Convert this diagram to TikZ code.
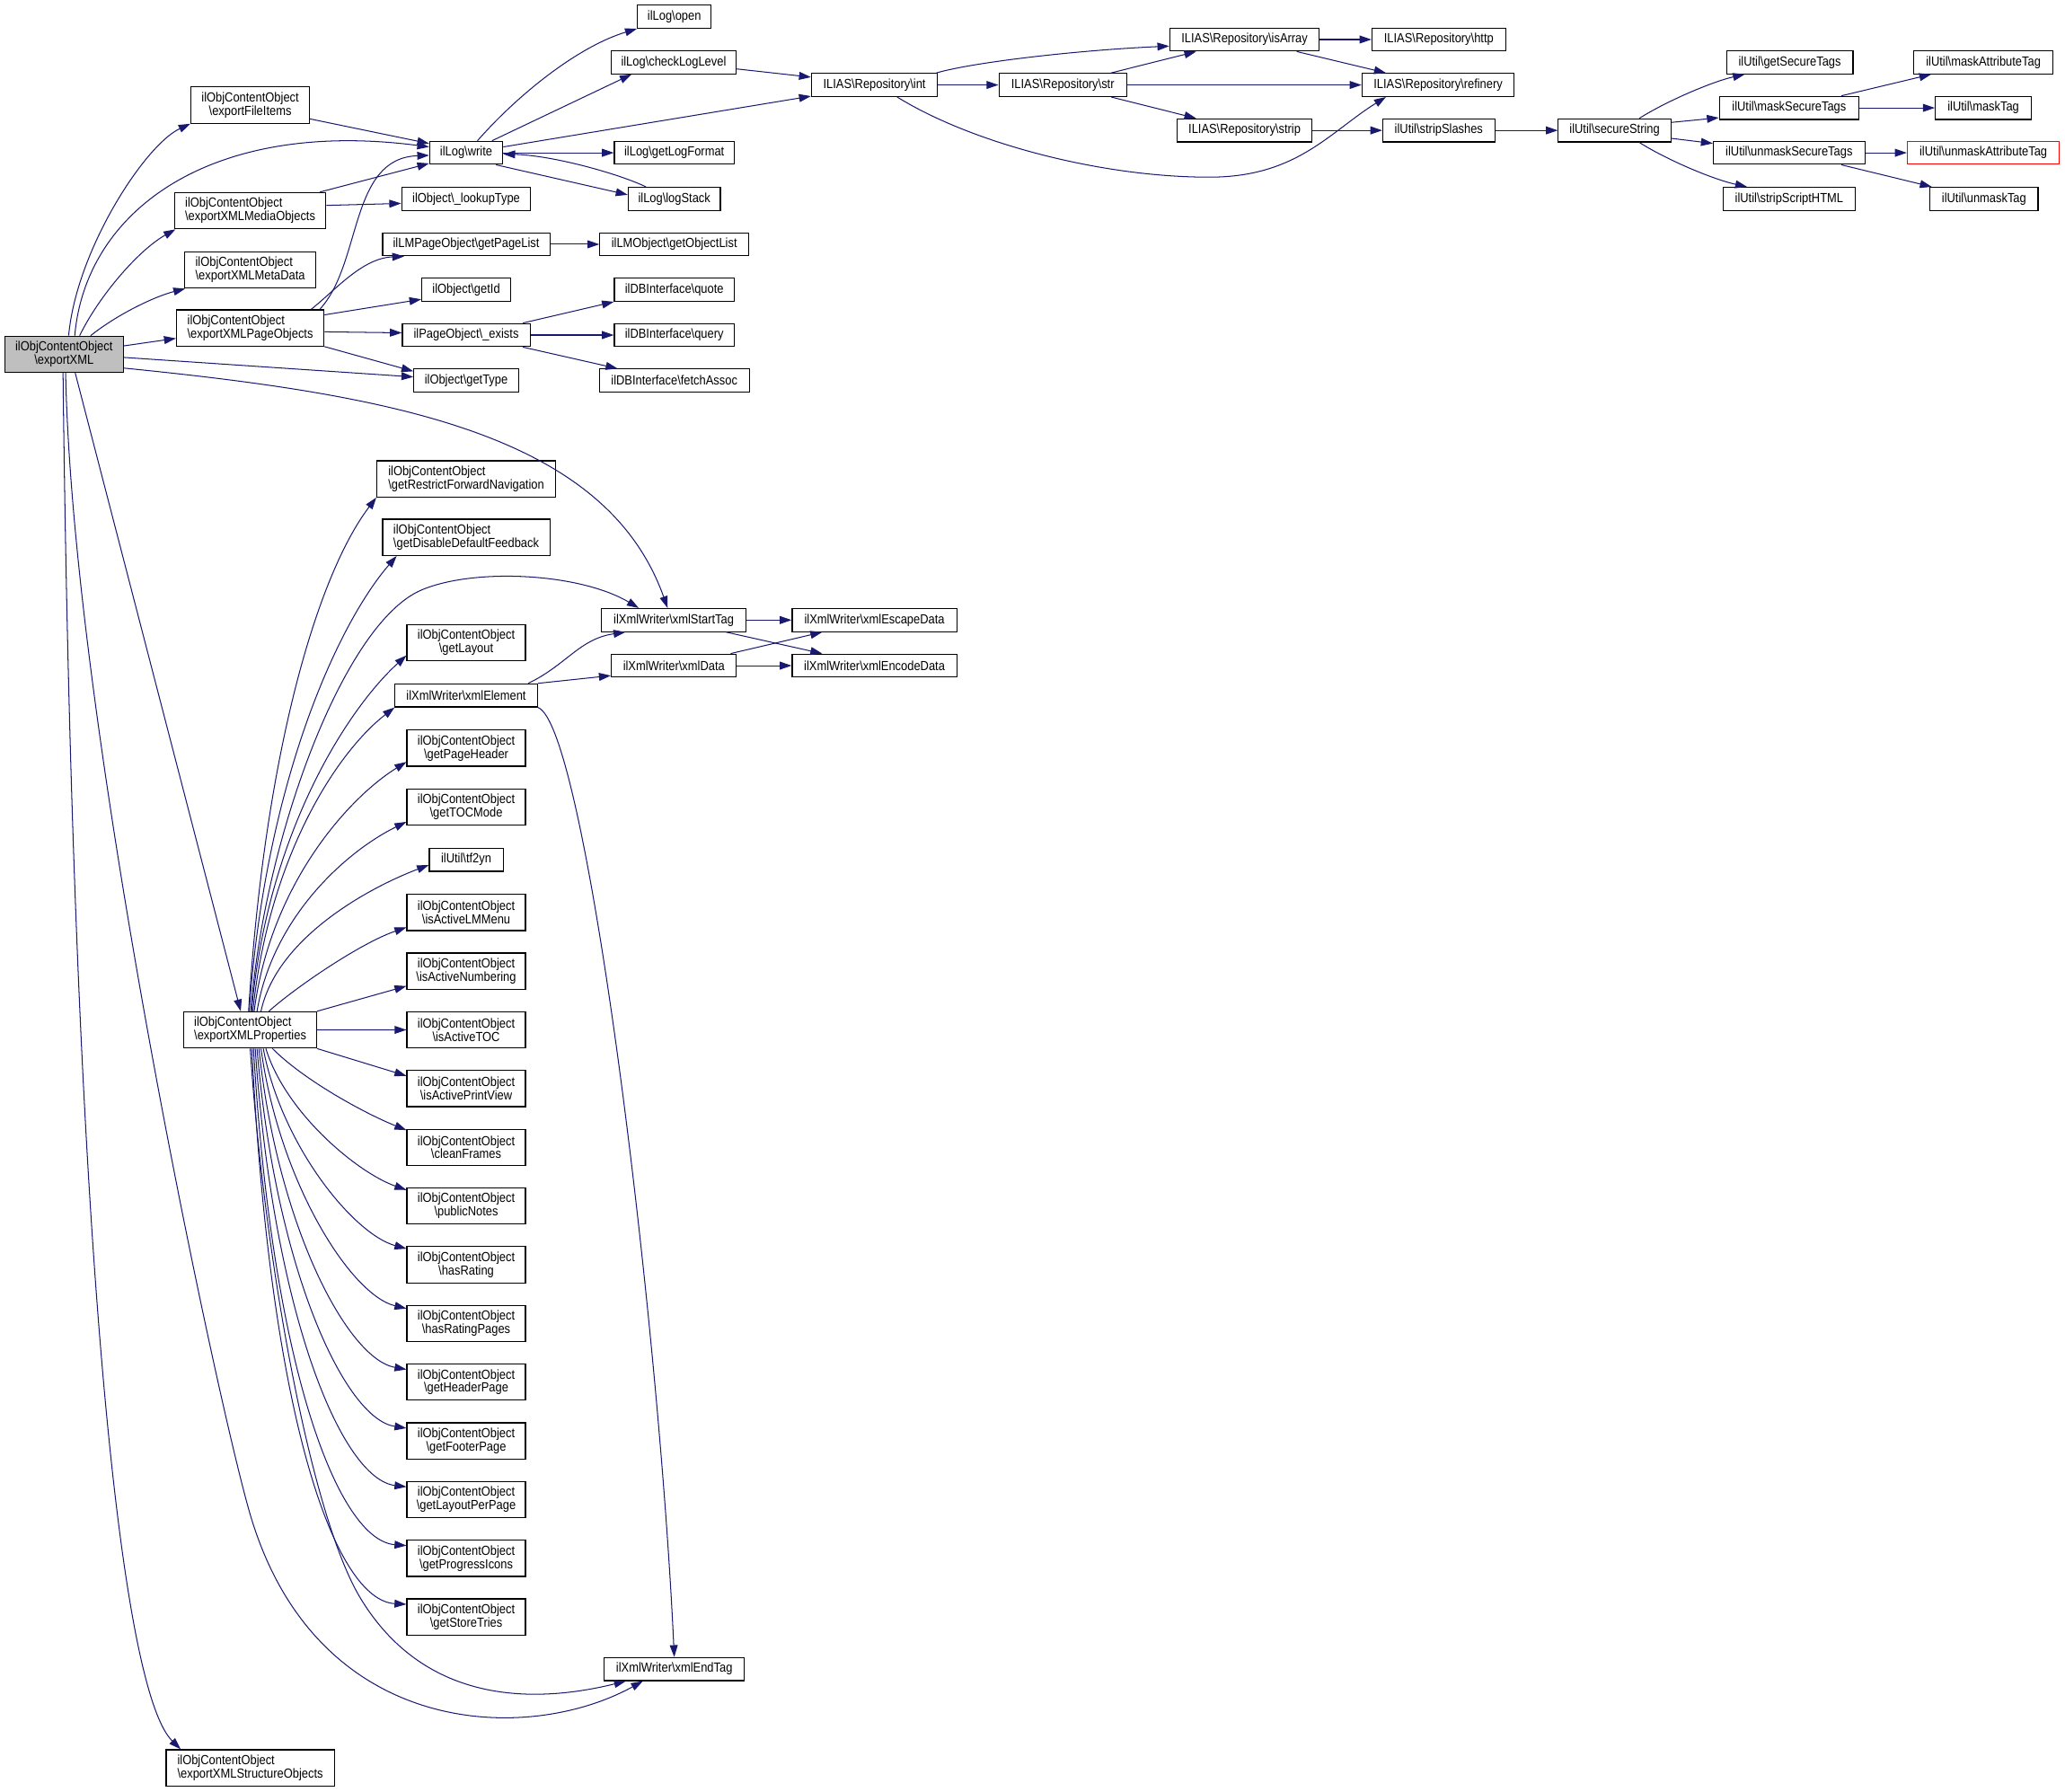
\documentclass[tikz,border=0pt]{standalone}
\usepackage{fontspec}
\setmainfont{Liberation Sans}[FakeStretch=0.88]
\usetikzlibrary{arrows.meta}
\definecolor{callcol}{HTML}{191970}
\definecolor{rootfill}{HTML}{BFBFBF}
\newcommand{\bsl}{\textbackslash}

\begin{document}
\begin{tikzpicture}[x=1pt,y=-1pt,font=\fontsize{10}{10.2}\selectfont]
\tikzset{fn/.style={draw,fill=white,line width=.8pt,inner sep=0pt,minimum height=17.5pt},
 fnn/.style={fn,minimum height=27.5pt,align=center},
 fnl/.style={fnn,align=left},
 call/.style={draw=callcol,line width=.7pt,-{Triangle[length=9pt,width=6pt]}}}
\useasboundingbox (0,0) rectangle (1568,1360);
\node[fnn,fill=rootfill,minimum width=90pt] (exportxml) at (48.6,269) {ilObjContentObject\\\bsl exportXML};
\node[fnn,minimum width=90pt] (fileitems) at (190,79.8) {ilObjContentObject\\\bsl exportFileItems};
\node[fnl,minimum width=115pt] (mediaobj) at (190,160) {ilObjContentObject\\\bsl exportXMLMediaObjects};
\node[fnl,minimum width=100pt] (metadata) at (190,205) {ilObjContentObject\\\bsl exportXMLMetaData};
\node[fnl,minimum width=112pt] (pageobj) at (190,249) {ilObjContentObject\\\bsl exportXMLPageObjects};
\node[fnl,minimum width=100.6pt] (props) at (190,782) {ilObjContentObject\\\bsl exportXMLProperties};
\node[fnl,minimum width=127.7pt] (structobj) at (190,1342.3) {ilObjContentObject\\\bsl exportXMLStructureObjects};
\node[fn,minimum width=55.5pt] (logwrite) at (354,116) {ilLog\bsl write};
\node[fn,minimum width=98pt] (lookup) at (354,151) {ilObject\bsl\_lookupType};
\node[fn,minimum width=127pt] (pagelist) at (354,185.5) {ilLMPageObject\bsl getPageList};
\node[fn,minimum width=67.5pt] (getid) at (354,220) {ilObject\bsl getId};
\node[fn,minimum width=97pt] (exists) at (354,254.4) {ilPageObject\bsl\_exists};
\node[fn,minimum width=79.5pt] (gettype) at (354,289) {ilObject\bsl getType};
\node[fnl,minimum width=135.7pt] (restrictnav) at (354,363.6) {ilObjContentObject\\\bsl getRestrictForwardNavigation};
\node[fnl,minimum width=127pt] (disablefb) at (354,408) {ilObjContentObject\\\bsl getDisableDefaultFeedback};
\node[fnn,minimum width=90pt] (layout) at (354,488) {ilObjContentObject\\\bsl getLayout};
\node[fn,minimum width=108pt] (element) at (354,528) {ilXmlWriter\bsl xmlElement};
\node[fnn,minimum width=90pt] (pageheader) at (354,568) {ilObjContentObject\\\bsl getPageHeader};
\node[fnn,minimum width=90pt] (tocmode) at (354,612.7) {ilObjContentObject\\\bsl getTOCMode};
\node[fn,minimum width=56pt] (tfyn) at (354,652.8) {ilUtil\bsl tf2yn};
\foreach \n/\m [count=\i from 0] in {lmmenu/isActiveLMMenu, numbering/isActiveNumbering, activetoc/isActiveTOC, printview/isActivePrintView, cleanframes/cleanFrames, publicnotes/publicNotes, hasrating/hasRating, ratingpages/hasRatingPages, headerpage/getHeaderPage, footerpage/getFooterPage, layoutpp/getLayoutPerPage, progress/getProgressIcons, storetries/getStoreTries}
 \node[fnn,minimum width=90pt] (\n) at (354,692.8+44.58*\i) {ilObjContentObject\\\bsl\m};
\node[fn,minimum width=56pt] (openlog) at (512,12.7) {ilLog\bsl open};
\node[fn,minimum width=95pt] (checklvl) at (511.5,47.3) {ilLog\bsl checkLogLevel};
\node[fn,minimum width=91pt] (logformat) at (512,116) {ilLog\bsl getLogFormat};
\node[fn,minimum width=70pt] (logstack) at (512,151) {ilLog\bsl logStack};
\node[fn,minimum width=113pt] (objlist) at (512,185.5) {ilLMObject\bsl getObjectList};
\node[fn,minimum width=91pt] (quote) at (512,220) {ilDBInterface\bsl quote};
\node[fn,minimum width=91pt] (query) at (512,254.4) {ilDBInterface\bsl query};
\node[fn,minimum width=114pt] (fetch) at (512,289) {ilDBInterface\bsl fetchAssoc};
\node[fn,minimum width=110pt] (starttag) at (511.6,470.8) {ilXmlWriter\bsl xmlStartTag};
\node[fn,minimum width=95pt] (xmldata) at (511.7,505.4) {ilXmlWriter\bsl xmlData};
\node[fn,minimum width=106.4pt] (endtag) at (512,1267.3) {ilXmlWriter\bsl xmlEndTag};
\node[fn,minimum width=125pt] (escape) at (664,470.8) {ilXmlWriter\bsl xmlEscapeData};
\node[fn,minimum width=125pt] (encode) at (664,505.4) {ilXmlWriter\bsl xmlEncodeData};
\node[fn,minimum width=95.7pt] (repoint) at (664,64.5) {ILIAS\bsl Repository\bsl int};
\node[fn,minimum width=97pt] (repostr) at (807,64.5) {ILIAS\bsl Repository\bsl str};
\node[fn,minimum width=113.5pt] (isarray) at (945,30) {ILIAS\bsl Repository\bsl isArray};
\node[fn,minimum width=102.6pt] (strip) at (945,99) {ILIAS\bsl Repository\bsl strip};
\node[fn,minimum width=101.5pt] (http) at (1092.5,30) {ILIAS\bsl Repository\bsl http};
\node[fn,minimum width=115.6pt] (refinery) at (1092,64.5) {ILIAS\bsl Repository\bsl refinery};
\node[fn,minimum width=85pt] (slashes) at (1092.5,99) {ilUtil\bsl stripSlashes};
\node[fn,minimum width=85.5pt] (secure) at (1226,99) {ilUtil\bsl secureString};
\node[fn,minimum width=96pt] (gettags) at (1359,47.3) {ilUtil\bsl getSecureTags};
\node[fn,minimum width=106pt] (masktags) at (1358.5,81.9) {ilUtil\bsl maskSecureTags};
\node[fn,minimum width=115pt] (unmasktags) at (1358.5,116) {ilUtil\bsl unmaskSecureTags};
\node[fn,minimum width=100pt] (striphtml) at (1358.5,151) {ilUtil\bsl stripScriptHTML};
\node[fn,minimum width=105.5pt] (maskattr) at (1506,47.3) {ilUtil\bsl maskAttributeTag};
\node[fn,minimum width=73pt] (masktag) at (1506,81.9) {ilUtil\bsl maskTag};
\node[fn,draw=red,minimum width=115.5pt] (unmaskattr) at (1506,116) {ilUtil\bsl unmaskAttributeTag};
\node[fn,minimum width=82pt] (unmasktag) at (1506.5,151) {ilUtil\bsl unmaskTag};
\draw[call] (exportxml.76) .. controls (58,190) and (110,110) .. (fileitems.south west);
\draw[call] (exportxml.60) .. controls (65,160) and (160,90) .. (logwrite.171);
\draw[call] (exportxml.50) .. controls (75,225) and (105,190) .. (mediaobj.194);
\draw[call] (exportxml.35) .. controls (90,238) and (118,225) .. (metadata.196);
\draw[call] (exportxml.8) -- (pageobj.188);
\draw[call] (exportxml.-3) -- (gettype.176);
\draw[call] (exportxml.-13) .. controls (300,300) and (460,330) .. (starttag.117);
\draw[call] (exportxml.-59) -- (props.117);
\draw[call] (exportxml.-85) .. controls (55,550) and (165,1065) .. (190,1150) .. controls (240,1320) and (400,1325) .. (endtag.201);
\draw[call] (exportxml.-93) .. controls (55,900) and (88,1280) .. (structobj.165);
\draw[call] (fileitems.-13) -- (logwrite.166);
\draw[call] (mediaobj.15) -- (logwrite.196);
\draw[call] (mediaobj.4) -- (lookup.184);
\draw[call] (pageobj.15) .. controls (275,200) and (265,120) .. (logwrite.184);
\draw[call] (pageobj.17) .. controls (255,220) and (275,196) .. (pagelist.191);
\draw[call] (pageobj.10) -- (getid.192);
\draw[call] (pageobj.-3) -- (exists.178);
\draw[call] (pageobj.south east) -- (gettype.170);
\draw[call] (logwrite.47) .. controls (395,70) and (440,35) .. (openlog.south west);
\draw[call] (logwrite.25) -- (checklvl.196);
\draw[call] (logwrite.9) -- (repoint.190);
\draw[call] (checklvl.-6) -- (repoint.173);
\draw[call] (logwrite) -- (logformat);
\draw[call] (logwrite.-22) -- (logstack.175);
\draw[call] (logstack.157) .. controls (470,132) and (420,118) .. (logwrite.-2);
\draw[call] (pagelist) -- (objlist);
\draw[call] (exists.12) -- (quote.south west);
\draw[call] (exists) -- (query);
\draw[call] (exists.-12) -- (fetch.168);
\draw[call] (repoint.11) .. controls (740,47) and (820,38) .. (isarray.185);
\draw[call] (repoint) -- (repostr);
\draw[call] (repoint.-28) .. controls (740,110) and (840,135) .. (920,134.5) .. controls (985,134) and (1010,100) .. (refinery.193);
\draw[call] (repostr.14) -- (isarray.194);
\draw[call] (repostr) -- (refinery);
\draw[call] (repostr.-14) -- (strip.166);
\draw[call] (isarray) -- (http);
\draw[call] (isarray.-13) -- (refinery.167);
\draw[call] (strip) -- (slashes);
\draw[call] (slashes) -- (secure);
\draw[call] (secure.26) .. controls (1265,77) and (1300,62) .. (gettags.195);
\draw[call] (secure.8) -- (masktags.188);
\draw[call] (secure.-8) -- (unmasktags.173);
\draw[call] (secure.-26) .. controls (1265,121) and (1300,136) .. (striphtml.164);
\draw[call] (masktags.13) -- (maskattr.193);
\draw[call] (masktags) -- (masktag);
\draw[call] (unmasktags) -- (unmaskattr);
\draw[call] (unmasktags.-13) -- (unmasktag.167);
\draw[call] (props) -- (activetoc);
\draw[call] (props.north east) -- (numbering.194);
\draw[call] (props.south east) -- (printview.168);
\draw[call] (props.88) .. controls (200,640) and (260,473.5) .. (320,448) .. controls (360,431) and (440,435) .. (starttag.161);
\draw[call] (props.-90) .. controls (200,950) and (235,1150) .. (274,1214) .. controls (321,1291) and (400,1295) .. (endtag.194);
\foreach \n/\s/\e/\ax/\ay/\bx/\by in {restrictnav/95/south west/12/-195/-45/59, disablefb/93/195/12/-173/-45/52, layout/86/192/12/-135/-45/41, element/82/south west/12/-116/-45/35, pageheader/78/193/12/-95/-45/28, tocmode/70/194/12/-72/-45/22, tfyn/60/188/12/-56/-45/17, lmmenu/45/194/20/-18/-35/12}
 \draw[call] (props.\s) .. controls +(\ax,\ay) and +(\bx,\by) .. (\n.\e);
\foreach \n/\s/\e/\ax/\ay/\bx/\by in {cleanframes/-40/164/25/25/-30/-12, publicnotes/-50/165/15/49/-37/-13, hasrating/-55/165/14/74/-40/-11, ratingpages/-60/166/14/102/-42/-10, headerpage/-65/168/14/134/-45/-8, footerpage/-70/168/14/167/-47/-7, layoutpp/-75/168/14/203/-49/-6, progress/-80/168/14/242/-52/-4, storetries/-85/168/14/283/-54/-3}
 \draw[call] (props.\s) .. controls +(\ax,\ay) and +(\bx,\by) .. (\n.\e);
\draw[call] (element.11) .. controls (430,505) and (440,485) .. (starttag.194);
\draw[call] (element.north east) -- (xmldata.189);
\draw[call] (element.south east) .. controls (445,550) and (500,1000) .. (endtag.north);
\draw[call] (starttag) -- (escape);
\draw[call] (starttag.-13) -- (encode.167);
\draw[call] (xmldata.12) -- (escape.193);
\draw[call] (xmldata) -- (encode);
\end{tikzpicture}
\end{document}
